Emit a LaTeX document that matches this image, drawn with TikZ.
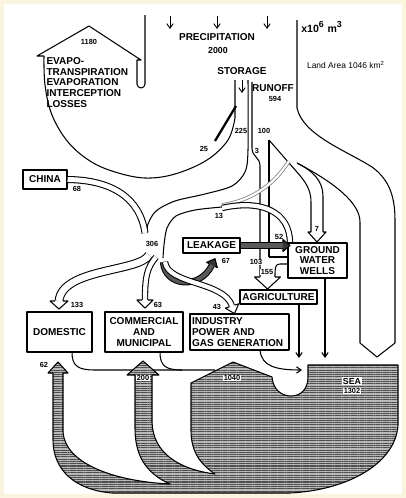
\documentclass[tikz,border=0pt]{standalone}
\usepackage{fontspec}
\setmainfont{Liberation Sans}
\usetikzlibrary{arrows.meta, patterns.meta}

\definecolor{cream}{RGB}{250,243,221}

\tikzset{
  pics/ohead/.style n args={3}{code={%
    \draw[fill=white] (-#2,-#3) -- (-#2,-#1) -- (0,0) -- (-#2,#1) -- (-#2,#3);
  }},
  pics/bhead/.style n args={3}{code={%
    \draw[fill=black!80] (-#2,-#3) -- (-#2,-#1) -- (0,0) -- (-#2,#1) -- (-#2,#3);
  }}
}

\begin{document}
\begin{tikzpicture}[
  % pixel grid, y running down
  x=0.02cm, y=0.02cm, yscale=-1,
  line width=0.6pt, line join=round,
  box/.style={draw, inner sep=0pt, align=center, font=\fontsize{5.7}{6.1}\selectfont\bfseries},
  lbl/.style={inner sep=0pt, align=center, font=\fontsize{5.7}{6.1}\selectfont\bfseries},
  num/.style={inner sep=0.3pt, font=\fontsize{4.2}{5}\selectfont\bfseries},
  chan/.style={double=white, double distance=#1},
  chan/.default=2.8pt,
  drop/.style={-{Straight Barb[length=2.6pt,width=3.6pt]}},
  sea/.style={pattern={Lines[distance=1.3pt,line width=0.6pt]}, pattern color=black!70}
]
  % frame
  \fill[cream] (0,0) rectangle (406,498);
  \fill[white] (4,4) rectangle (402,494);

  % precipitation
  \foreach \px in {170,217,267}
    \draw[drop, line width=0.5pt] (\px,16) -- (\px,29);
  \node[lbl] (precip) at (217,37) {PRECIPITATION};
  \node[num, font=\fontsize{5}{6}\selectfont\bfseries] (p2000) at (218,50) {2000};
  \node[lbl, font=\fontsize{6}{7}\selectfont\bfseries] (unit) at (322,27) {x10\textsuperscript{6} m\textsuperscript{3}};
  \node[inner sep=0pt, font=\fontsize{4.8}{6}\selectfont] (area) at (346,65) {Land Area 1046 km\textsuperscript{2}};

  % evapotranspiration house
  \draw (145,15) -- (145,84) arc[start angle=0, end angle=180, radius=4] -- (137,60) -- (141,60) -- (89,26) -- (37,56) -- (44,56);
  \draw plot[smooth, tension=0.6] coordinates {(44,56) (45,85) (52,115) (68,142) (90,161) (115,172) (145,178) (175,174) (207,160) (228,140) (235,118)} -- (235,80);
  \node[num] (n1180) at (89,42) {1180};
  \node[lbl, anchor=north west, align=left] (evap) at (46,57) {EVAPO-\\TRANSPIRATION\\EVAPORATION\\INTERCEPTION\\LOSSES};

  % storage and runoff
  \draw[drop, line width=0.5pt] (242,80) -- (242,93);
  \node[lbl] (storage) at (242,71) {STORAGE};
  \node[lbl] (runoff) at (273,88) {RUNOFF};
  \node[num] (n594) at (275,99) {594};
  \draw[line width=1.3pt] (236,106) -- (215,141);
  \draw plot[smooth, tension=0.5] coordinates {(248,80) (248,150) (245,172) (232,186) (205,194) (175,201) (156,211) (148,224) (147,233)};
  \draw (252,82) -- (252,148) .. controls (252,157) and (260,157) .. (260,166) -- (260,277);
  \draw (269,140) -- (269,257);
  \draw (269,140) -- (296,171) .. controls (306,182) and (311,190) .. (311,202) -- (311,232);
  \draw (297,163) .. controls (313,171) and (323,181) .. (323,196) -- (323,232);
  \pic[rotate=-90] at (317,242) {ohead={9}{10}{6}};
  \draw (297,20) -- (297,108) .. controls (303,135) and (345,150) .. (372,167) .. controls (390,180) and (395,198) .. (395,220) -- (395,343) -- (377,357) -- (360,343) -- (360,222) .. controls (360,203) and (335,183) .. (297,163);

  % diverted runoff and ring to the wells
  \draw[black!50, double=white, double distance=1.2pt, line width=0.45pt] (289,161) .. controls (272,188) and (248,201) .. (222,205);
  \draw[chan=2.4pt] (222,208) .. controls (262,199) and (290,212) .. (290,243);
  \draw plot[smooth] coordinates {(222,207) (195,210) (176,216) (167,228) (164,245) (163,258)};

  % boxes
  \node[box, minimum width=0.88cm, minimum height=0.38cm] (china) at (45,179.5) {CHINA};
  \node[box, minimum width=1.30cm, minimum height=0.80cm] (dom) at (59.5,332) {DOMESTIC};
  \node[box, minimum width=1.56cm, minimum height=0.80cm] (com) at (144,332) {COMMERCIAL\\AND\\MUNICIPAL};
  \node[box, minimum height=0.72cm, text width=1.9cm, inner xsep=0.04cm, align=left] (ind) at (239.5,332) {INDUSTRY\\POWER AND\\GAS GENERATION};
  \node[box, minimum width=1.14cm, minimum height=0.30cm] (leak) at (211.5,245.5) {LEAKAGE};
  \node[box, minimum width=1.18cm, minimum height=0.70cm] (gw) at (317.5,260.5) {GROUND\\WATER\\WELLS};
  \node[box, minimum width=1.54cm, minimum height=0.28cm] (agri) at (278.5,297) {AGRICULTURE};

  % supply from china and the 306 trunk
  \draw[chan] (china.east) .. controls (112,180) and (140,198) .. (145,233);
  \draw[chan=3.8pt] (149,255) .. controls (140,272) and (62,268) .. (59,301);
  \pic[rotate=-90] at (59,309) {ohead={9}{8}{4}};
  \draw[chan=2.4pt] (156,257) .. controls (147,268) and (145,276) .. (145,300);
  \pic[rotate=-90] at (145,308) {ohead={8}{8}{3}};
  \draw[double=black!65, double distance=2.4pt] (163,262) .. controls (165,287) and (200,290) .. (212,265);
  \pic[rotate=64] at (215,258.7) {bhead={6}{7}{3}};
  \draw[chan=2.4pt] (165,262) .. controls (168,285) and (224,281) .. (232,306);
  \pic[rotate=-72] at (234.5,313.6) {ohead={7}{8}{3}};

  % leakage to wells, wells and runoff to agriculture
  \draw[double=black!65, double distance=2.4pt] (leak.east) -- (283,245.5);
  \pic at (290,245.5) {bhead={6}{7}{3}};
  \draw (gw.west |- 0,257) -- (269,257);
  \draw (gw.west |- 0,264) -- (280,264) .. controls (275,264) and (275,268) .. (275,277);
  \pic[rotate=-90] at (267.5,289) {ohead={13}{12}{7.5}};

  % return lines and the sea
  \draw (dom.south -| 72,0) .. controls (72,366) and (78,370) .. (95,370) -- (215,370);
  \draw (com.south -| 160,0) .. controls (160,366) and (166,370) .. (182,370);
  \draw[preaction={fill=black!28}, sea] (308,365) -- (398,365) -- (398,425)
    .. controls (396,462) and (350,490) .. (290,493) -- (112,493)
    .. controls (75,490) and (53,470) .. (53,440) -- (53,373) -- (48,373) -- (58,362) -- (68,373) -- (63,373) -- (63,432)
    .. controls (65,462) and (110,481) .. (170,484)
    .. controls (143,472) and (135,452) .. (135,428) -- (135,375) -- (127,375) -- (143,361) -- (159,375) -- (152,375) -- (152,422)
    .. controls (153,452) and (177,469) .. (215,474)
    .. controls (197,462) and (191,448) .. (191,430) -- (191,383) -- (233,362) -- (272,377)
    .. controls (273,390) and (282,396) .. (291,396) .. controls (301,396) and (308,389) .. (308,377) -- cycle;
  \draw[drop] (ind.south -| 260,0) .. controls (262,366) and (275,370) .. (302,370);
  \draw[drop] (agri.south -| 299,0) -- (299,358);
  \draw[drop] (gw.south -| 325,0) -- (325,358);

  % flow values
  \node[num] (n225) at (241,131) {225};
  \node[num] (n100) at (264,131) {100};
  \node[num] (n25) at (204,149) {25};
  \node[num] (n3) at (257,151) {3};
  \node[num] (n13) at (219,216) {13};
  \node[num] (n68) at (77,189) {68};
  \node[num] (n306) at (152,244) {306};
  \node[num] (n133) at (77,305) {133};
  \node[num] (n63) at (158,305) {63};
  \node[num] (n43) at (217,307) {43};
  \node[num] (n67) at (226,261) {67};
  \node[num] (n52) at (279,237) {52};
  \node[num, fill=white] (n103) at (256,262) {103};
  \node[num, fill=white] (n155) at (267,272) {155};
  \node[num] (n7) at (317,229) {7};
  \node[num] (n62) at (44,365) {62};
  \node[num, fill=white] (n200) at (143,378) {200};
  \node[num, fill=white] (n1040) at (232,378) {1040};
  \node[num, fill=white, font=\fontsize{5}{6}\selectfont\bfseries] (seaname) at (352,381) {SEA};
  \node[num, fill=white] (n1302) at (352,391) {1302};
\end{tikzpicture}
\end{document}
